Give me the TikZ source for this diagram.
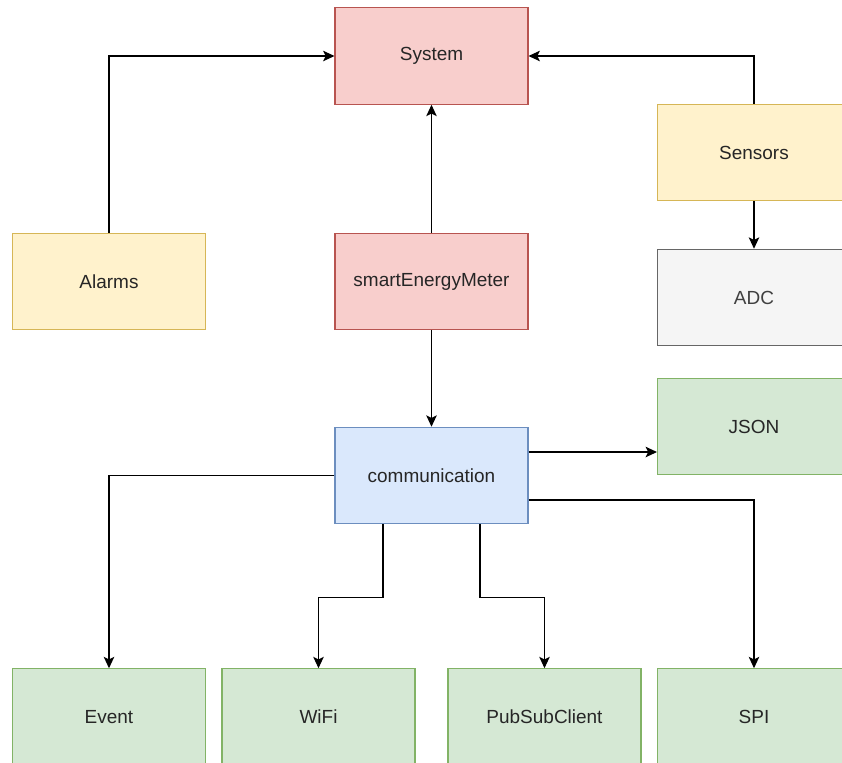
\documentclass[tikz,border=0pt]{standalone}
\usepackage{fontspec}
\setmainfont{Liberation Sans}
\usetikzlibrary{arrows.meta}

\definecolor{redfill}{HTML}{F8CECC}
\definecolor{redline}{HTML}{B85450}
\definecolor{yelfill}{HTML}{FFF2CC}
\definecolor{yelline}{HTML}{D6B656}
\definecolor{grnfill}{HTML}{D5E8D4}
\definecolor{grnline}{HTML}{82B366}
\definecolor{blufill}{HTML}{DAE8FC}
\definecolor{bluline}{HTML}{6C8EBF}
\definecolor{gryfill}{HTML}{F5F5F5}
\definecolor{gryline}{HTML}{666666}

\tikzset{
  block/.style={rectangle,draw,line width=0.6pt,minimum width=3.86cm,minimum height=1.93cm,
    inner sep=0pt,font=\fontsize{10.8}{13}\selectfont,text=black!85},
  redblock/.style={block,fill=redfill,draw=redline},
  yelblock/.style={block,fill=yelfill,draw=yelline},
  grnblock/.style={block,fill=grnfill,draw=grnline},
  blublock/.style={block,fill=blufill,draw=bluline},
  gryblock/.style={block,fill=gryfill,draw=gryline,text=black!75},
  arr/.style={-{Stealth[length=6.5pt,width=6pt,inset=1.5pt]},line width=0.7pt}
}

\begin{document}
\begin{tikzpicture}[x=0.02cm,y=-0.02cm]

            \useasboundingbox (0,0) rectangle (842,762);
            \clip (0,0) rectangle (842,762);

            \node[redblock] (sys) at (431.5,56) {System};
            \node[yelblock] (sens) at (754,152.5) {Sensors};
            \node[yelblock] (alarm) at (109,281.5) {Alarms};
            \node[redblock] (sem) at (431.5,281.5) {smartEnergyMeter};
            \node[gryblock] (adc) at (754,297.5) {ADC};
            \node[grnblock] (json) at (754,426.5) {JSON};
            \node[blublock] (comm) at (431.5,475.5) {communication};

            \node[grnblock] (event) at (109,717) {Event};
            \node[grnblock] (wifi) at (318.5,717) {WiFi};
            \node[grnblock] (pubsub) at (544.5,717) {PubSubClient};
            \node[grnblock] (spi) at (754,717) {SPI};

            \draw[arr] (alarm.north) |- (sys.west);
            \draw[arr] (sens.north) |- (sys.east);
            \draw[arr] (sem.north) -- (sys.south);
            \draw[arr] (sem.south) -- (comm.north);
            \draw[arr] (sens.south) -- (adc.north);

            \draw[arr] ([yshift=0.47cm]comm.east) coordinate (cj) -- (cj -| json.west);
            \draw[arr] (comm.west) -| (event.north);
            \draw[arr] ([xshift=-0.97cm]comm.south) -- ++(0,73) -| (wifi.north);
            \draw[arr] ([xshift=0.97cm]comm.south) -- ++(0,73) -| (pubsub.north);
            \draw[arr] ([yshift=-0.49cm]comm.east) -| (spi.north);

        \end{tikzpicture}
\end{document}
